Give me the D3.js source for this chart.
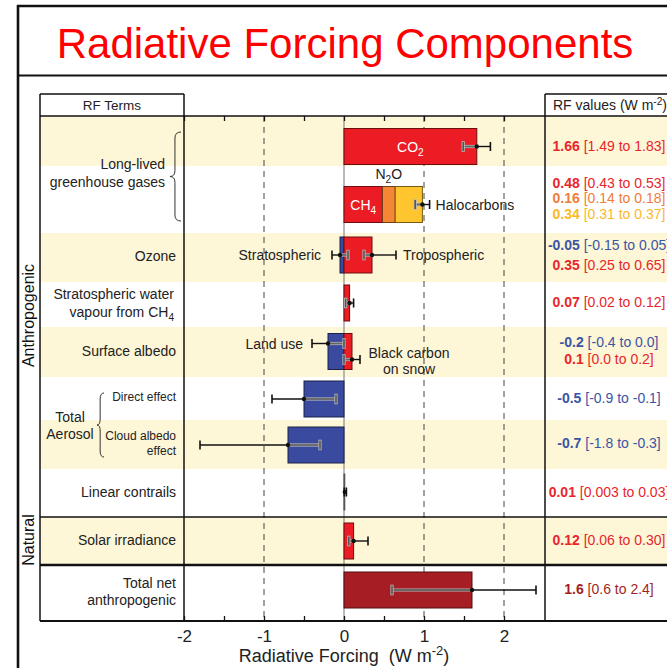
<!DOCTYPE html>
<html><head><meta charset="utf-8">
<script src="https://cdn.jsdelivr.net/npm/d3@7"></script>
<style>body{margin:0;background:#fff}svg{display:block}</style>
</head><body><svg id="c" width="667" height="668"></svg>
<script>
// ================= DATA =================
const chartTitle = "Radiative Forcing Components";
const rowCategories = ["CO2","CH4 / N2O / Halocarbons","Ozone","Stratospheric water vapour","Surface albedo","Aerosol direct effect","Aerosol cloud albedo effect","Linear contrails","Solar irradiance","Total net anthropogenic"];

const barNames  = ["CO2","CH4","N2O","Halocarbons","Stratospheric ozone","Tropospheric ozone","Stratospheric water vapour","Land use","Black carbon on snow","Aerosol direct effect","Cloud albedo effect","Linear contrails","Solar irradiance","Total net anthropogenic"];
const barValues = [1.66, 0.48, 0.16, 0.34, -0.05, 0.35, 0.07, -0.2, 0.1, -0.5, -0.7, 0.01, 0.12, 1.6];
const barRow    = [0, 1, 1, 1, 2, 2, 3, 4, 4, 5, 6, 7, 8, 9];

const valueLabels = ["1.66","0.48","0.16","0.34","-0.05","0.35","0.07","-0.2","0.1","-0.5","-0.7","0.01","0.12","1.6"];
const rangeLabels = ["[1.49 to 1.83]","[0.43 to 0.53]","[0.14 to 0.18]","[0.31 to 0.37]","[-0.15 to 0.05]","[0.25 to 0.65]","[0.02 to 0.12]","[-0.4 to 0.0]","[0.0 to 0.2]","[-0.9 to -0.1]","[-1.8 to -0.3]","[0.003 to 0.03]","[0.06 to 0.30]","[0.6 to 2.4]"];

const errNames = ["CO2","CH4+N2O+Halocarbons","Stratospheric ozone","Tropospheric ozone","Stratospheric water vapour","Land use","Black carbon on snow","Aerosol direct effect","Cloud albedo effect","Linear contrails","Solar irradiance","Total net anthropogenic"];
const errValue = [1.66, 0.98, -0.05, 0.35, 0.07, -0.2, 0.1, -0.5, -0.7, 0.01, 0.12, 1.6];
const errLow   = [1.49, 0.89, -0.15, 0.25, 0.02, -0.4, 0.0, -0.9, -1.8, 0.003, 0.06, 0.6];
const errHigh  = [1.83, 1.07, 0.05, 0.65, 0.12, 0.0, 0.2, -0.1, -0.3, 0.03, 0.30, 2.4];
const errRow   = [0, 1, 2, 2, 3, 4, 4, 5, 6, 7, 8, 9];

const termText = [["Long-lived","greenhouse gases"],["Ozone"],["Stratospheric water","vapour from CH_{4}"],["Surface albedo"],["Direct effect"],["Cloud albedo","effect"],["Linear contrails"],["Solar irradiance"],["Total net","anthropogenic"]];
const termFirstRow = [0, 2, 3, 4, 5, 6, 7, 8, 9];
const termLastRow  = [1, 2, 3, 4, 5, 6, 7, 8, 9];

const groupLabels = ["Anthropogenic","Natural"];
const groupFirstRow = [0, 8];
const groupLastRow = [7, 8];

const xTickValues = [-2, -1, 0, 1, 2];
const xTickLabels = ["-2","-1","0","1","2"];
const xMinorTicks = [-2,-1.5,-1,-0.5,0,0.5,1,1.5,2];
const xGridLines = [-1, 1, 2];
const axisTitle = "Radiative Forcing\u00A0 (W m^{-2})";

// ================= STYLE / LAYOUT =================
const FONT = "'Liberation Sans', Arial, Helvetica, sans-serif";
const C = {red:"#EC1C24", orange:"#F58634", yellow:"#FFC52F", blue:"#3A4A9F", dark:"#A61E23"};
const T = {red:"#E8262C", orange:"#F07D3A", yellow:"#FBB829", blue:"#3B55A5", dark:"#A31F24"};
const colorKey = {"CO2":"red","CH4":"red","N2O":"orange","Halocarbons":"yellow","Stratospheric ozone":"blue","Tropospheric ozone":"red","Stratospheric water vapour":"red","Land use":"blue","Black carbon on snow":"red","Aerosol direct effect":"blue","Cloud albedo effect":"blue","Linear contrails":"red","Solar irradiance":"red","Total net anthropogenic":"dark"};
const SHADE = "#FDF6D7";

const svg = d3.select("#c");
svg.append("rect").attr("width",667).attr("height",668).attr("fill","#fff");

const x = d3.scaleLinear().domain([-2, 2.5]).range([184, 544]);
const ROW_EDGES = [116,166,233,282,327,377,420,469,517,565,621];
const BAR_MIDS  = [146.5,204.5,255,303,351.5,399,445,492,541,590];
const TEXT_MIDS = [146,198,255,302,350.5,398,443,492,540,589];
const yEdge = d3.scaleLinear().domain(d3.range(ROW_EDGES.length)).range(ROW_EDGES);
const yMid  = d3.scaleLinear().domain(d3.range(BAR_MIDS.length)).range(BAR_MIDS);
const yText = d3.scaleLinear().domain(d3.range(TEXT_MIDS.length)).range(TEXT_MIDS);
const BAR_H = 36;
const PANEL_L = 40, CHART_L = 184, CHART_R = 545, RIGHT = 667;
const yTop = ROW_EDGES[0], yBot = ROW_EDGES[ROW_EDGES.length-1];

function rich(t, str, fs) {
  const parts = str.split(/(_\{[^}]*\}|\^\{[^}]*\})/).filter(s => s.length);
  let pend = 0;
  parts.forEach(p => {
    let sh = 0, txt = p, size = null;
    if (p.startsWith("_{")) { sh = fs*0.3; txt = p.slice(2,-1); size = fs*0.72; }
    else if (p.startsWith("^{")) { sh = -fs*0.38; txt = p.slice(2,-1); size = fs*0.72; }
    const ts = t.append("tspan").text(txt);
    const dy = sh - pend; if (dy) ts.attr("dy", dy);
    if (size) ts.attr("font-size", size);
    pend = sh;
  });
  return t;
}
function label(x0, y0, str, fs, anchor, fill, weight) {
  const t = svg.append("text").attr("x", x0).attr("y", y0).attr("font-family", FONT)
    .attr("font-size", fs).attr("text-anchor", anchor || "start").attr("fill", fill || "#222");
  if (weight) t.attr("font-weight", weight);
  return rich(t, str, fs);
}

// ---- row shading ----
d3.range(rowCategories.length).filter(i => i % 2 === 0).forEach(i => {
  svg.append("rect").attr("x", PANEL_L).attr("y", yEdge(i)).attr("width", RIGHT - PANEL_L)
    .attr("height", yEdge(i+1) - yEdge(i)).attr("fill", SHADE);
});

// ---- grid ----
svg.selectAll(".grid").data(xGridLines).join("line").attr("x1", d => x(d)).attr("x2", d => x(d))
  .attr("y1", yTop).attr("y2", yBot).attr("stroke", "#444").attr("stroke-width", 1).attr("stroke-dasharray", "6,5");
svg.append("line").attr("x1", x(0)).attr("x2", x(0)).attr("y1", yTop).attr("y2", yBot).attr("stroke", "#777").attr("stroke-width", 1);

// ---- bars (stacked per row) ----
const posAcc = {}, negAcc = {};
const bars = barNames.map((n, i) => {
  const r = barRow[i], v = barValues[i];
  let x0, x1;
  if (v >= 0) { x0 = posAcc[r] || 0; x1 = x0 + v; posAcc[r] = x1; }
  else { x1 = negAcc[r] || 0; x0 = x1 + v; negAcc[r] = x0; }
  return {n, i, r, v, x0, x1};
});
svg.selectAll(".bar").data(bars).join("rect")
  .attr("x", d => x(d.x0)).attr("width", d => Math.max(0.8, x(d.x1) - x(d.x0)))
  .attr("y", d => yMid(d.r) - BAR_H/2).attr("height", BAR_H)
  .attr("fill", d => C[colorKey[d.n]])
  .attr("stroke", d => d.n === "Linear contrails" ? "#555" : d3.color(C[colorKey[d.n]]).darker(2.2))
  .attr("stroke-width", 1);

// ---- error bars ----
const errOffset = {"Land use": -8, "Black carbon on snow": 8};
errNames.forEach((n, i) => {
  const r = errRow[i], lo = errLow[i], hi = errHigh[i], v = errValue[i];
  const y = yMid(r) + (errOffset[n] || 0);
  const b0 = negAcc[r] || 0, b1 = posAcc[r] || 0;
  const g = svg.append("g");
  g.append("line").attr("x1", x(lo)).attr("x2", x(hi)).attr("y1", y).attr("y2", y).attr("stroke", "#111").attr("stroke-width", 1.4);
  const i0 = Math.max(lo, b0), i1 = Math.min(hi, b1);
  if (i1 > i0 && (b1 - b0) > 0.03) {
    g.append("line").attr("x1", x(i0)).attr("x2", x(i1)).attr("y1", y).attr("y2", y).attr("stroke", "#b8b8b8").attr("stroke-width", 3.2);
    g.append("line").attr("x1", x(i0)).attr("x2", x(i1)).attr("y1", y).attr("y2", y).attr("stroke", "#666").attr("stroke-width", 1.8);
  }
  [lo, hi].forEach(c => {
    const inside = (b1 - b0) > 0.03 && c >= b0 && c <= b1;
    if (inside) g.append("line").attr("x1", x(c)).attr("x2", x(c)).attr("y1", y-5.3).attr("y2", y+5.3).attr("stroke", "#b8b8b8").attr("stroke-width", 3.2);
    g.append("line").attr("x1", x(c)).attr("x2", x(c)).attr("y1", y-4.5).attr("y2", y+4.5).attr("stroke", inside ? "#555" : "#111").attr("stroke-width", 1.6);
  });
  g.append("circle").attr("cx", x(v)).attr("cy", y).attr("r", 2.2).attr("fill", "#111");
});

// ---- in-chart labels ----
const co2 = bars[0], ch4 = bars[1], n2o = bars[2];
label((x(co2.x0)+x(co2.x1))/2, yMid(0)+5, "CO_{2}", 14, "middle", "#fff");
label((x(ch4.x0)+x(ch4.x1))/2, yMid(1)+5, "CH_{4}", 14, "middle", "#fff");
label((x(n2o.x0)+x(n2o.x1))/2, yMid(1)-BAR_H/2-8, "N_{2}O", 14, "middle", "#222");
label(x(errHigh[1])+6, yMid(1)+5, "Halocarbons", 14, "start", "#222");
label(x(errLow[2])-11, yMid(2)+5, "Stratospheric", 14, "end", "#222");
label(x(errHigh[3])+7, yMid(2)+5, "Tropospheric", 14, "start", "#222");
label(x(errLow[5])-9, yMid(4)-8+5, "Land use", 14, "end", "#222");
label(409, yMid(4)+6.5, "Black carbon", 14, "middle", "#222");
label(409, yMid(4)+22, "on snow", 14, "middle", "#222");

// ---- right value panel ----
const rowCount = {}; barRow.forEach(r => rowCount[r] = (rowCount[r] || 0) + 1);
const spacing = {1: 15.5, 2: 20, 4: 17};
const seen = {};
barNames.forEach((n, i) => {
  const r = barRow[i], k = (seen[r] = (seen[r] === undefined ? 0 : seen[r] + 1)), m = rowCount[r];
  const y = yText(r) + (k - (m-1)/2) * (spacing[r] || 0) + 5;
  const col = T[colorKey[n]];
  const t = svg.append("text").attr("x", 609).attr("y", y).attr("text-anchor", "middle")
    .attr("font-family", FONT).attr("font-size", 14).attr("fill", col);
  t.append("tspan").attr("font-weight", "bold").text(valueLabels[i]);
  t.append("tspan").text("\u00A0" + rangeLabels[i]);
});

// ---- left term labels ----
termText.forEach((lines, i) => {
  const y0 = yEdge(termFirstRow[i]), y1 = yEdge(termLastRow[i] + 1);
  const mid = (y0 + y1)/2 - 1.5;
  const small = (i === 4 || i === 5);
  const fs = small ? 12 : 14, lh = small ? 14.5 : 17.5;
  const xr = i === 0 ? 165 : (i === 2 ? 174 : 176);
  lines.forEach((ln, j) => {
    const y = mid + (j - (lines.length-1)/2) * lh + fs*0.36;
    label(xr, y, ln, fs, "end", "#222");
  });
});
const aerMid = (yEdge(5) + yEdge(7))/2 + 2;
label(70, aerMid - 8.5 + 5, "Total", 14, "middle", "#222");
label(70, aerMid + 8.5 + 5, "Aerosol", 14, "middle", "#222");

function brace(xTip, xEnd, y0, y1) {
  const xs = xTip + (xEnd - xTip) * 0.45, m = (y0 + y1)/2, r = 6;
  return `M${xEnd},${y0} Q${xs},${y0} ${xs},${y0+r} L${xs},${m-r} Q${xs},${m} ${xTip},${m} Q${xs},${m} ${xs},${m+r} L${xs},${y1-r} Q${xs},${y1} ${xEnd},${y1}`;
}
svg.append("path").attr("d", brace(170, 181, yEdge(0)+16, yEdge(2)-12)).attr("fill", "none").attr("stroke", "#333").attr("stroke-width", 1);
svg.append("path").attr("d", brace(97, 104, yEdge(5)+16, yEdge(7)-12)).attr("fill", "none").attr("stroke", "#333").attr("stroke-width", 1);

groupLabels.forEach((g, i) => {
  const cy = (yEdge(groupFirstRow[i]) + yEdge(groupLastRow[i] + 1))/2 - 1;
  svg.append("text").attr("transform", `translate(34,${cy}) rotate(-90)`).attr("text-anchor", "middle")
    .attr("font-family", FONT).attr("font-size", 16).attr("fill", "#111").text(g);
});

// ---- axes ----
const bottomMinor = svg.append("g").attr("transform", `translate(0,${yBot})`)
  .call(d3.axisBottom(x).tickValues(xMinorTicks).tickSizeInner(-5).tickSizeOuter(0).tickFormat(() => ""));
bottomMinor.select(".domain").remove();
bottomMinor.selectAll("line").attr("stroke", "#111").attr("stroke-width", 1.3);
const topMinor = svg.append("g").attr("transform", `translate(0,${yTop})`)
  .call(d3.axisTop(x).tickValues(xMinorTicks).tickSizeInner(-5).tickSizeOuter(0).tickFormat(() => ""));
topMinor.select(".domain").remove();
topMinor.selectAll("line").attr("stroke", "#111").attr("stroke-width", 1.3);
const ax = svg.append("g").attr("transform", `translate(0,${yBot})`).attr("font-family", FONT)
  .call(d3.axisBottom(x).tickValues(xTickValues).tickSize(0).tickPadding(9).tickFormat((d, i) => xTickLabels[i]));
ax.select(".domain").remove();
ax.selectAll("text").attr("font-size", 17).attr("fill", "#222");
label(344, 662, axisTitle, 18, "middle", "#222");

// ---- frame lines ----
function ln(x1, y1, x2, y2, w, c) {
  svg.append("line").attr("x1", x1).attr("y1", y1).attr("x2", x2).attr("y2", y2)
    .attr("stroke", c || "#111").attr("stroke-width", w);
}
ln(18, 5, 18, 668, 2.6);
ln(17, 6, 667, 6, 2.6);
ln(17, 75.5, 667, 75.5, 2.2);
ln(PANEL_L, 94, CHART_L, 94, 1.5);
ln(CHART_R, 94, RIGHT, 94, 1.5);
ln(PANEL_L, 94, PANEL_L, yBot, 1.5);
ln(CHART_L, 94, CHART_L, yBot, 1.5);
ln(CHART_R, 94, CHART_R, yBot, 1.5);
ln(PANEL_L, yTop, RIGHT, yTop, 1.5);
ln(PANEL_L, yEdge(8), RIGHT, yEdge(8), 1.5);
ln(PANEL_L, yEdge(9), RIGHT, yEdge(9), 2.6);
ln(PANEL_L, yBot, RIGHT, yBot, 2);

// ---- headers & title ----
label((PANEL_L + CHART_L)/2, 110, "RF Terms", 13.5, "middle", "#222");
label(553, 110, "RF values (W m^{-2})", 14, "start", "#222");
svg.append("text").attr("x", 345).attr("y", 58).attr("text-anchor", "middle").attr("font-family", FONT)
  .attr("font-size", 42).attr("fill", "#FF0000").text(chartTitle);
</script></body></html>
